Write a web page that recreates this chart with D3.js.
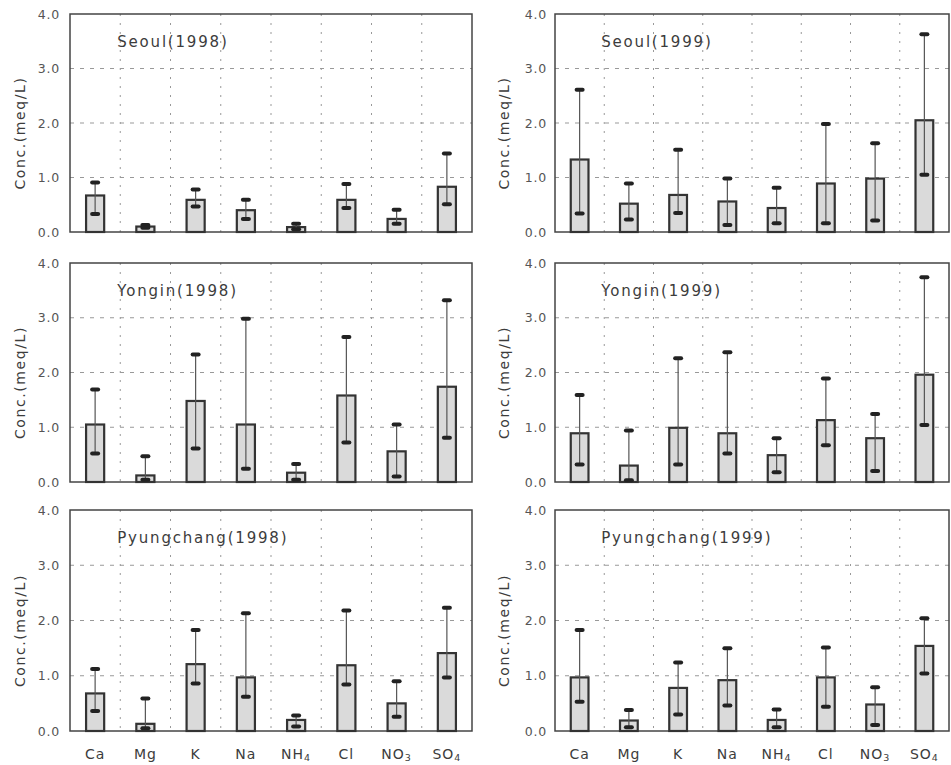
<!DOCTYPE html>
<html>
<head>
<meta charset="utf-8">
<script src="https://cdn.jsdelivr.net/npm/d3@7"></script>
<style>
  body { margin: 0; background: #fff; }
  svg { font-family: "DejaVu Sans", Arial, sans-serif; }
</style>
</head>
<body>
<script>
// ions on the x axis (sub = subscript digit)
var ions = ["Ca", "Mg", "K", "Na", "NH4", "Cl", "NO3", "SO4"];
var ionBase = ["Ca", "Mg", "K", "Na", "NH", "Cl", "NO", "SO"];
var ionSub = ["", "", "", "", "4", "", "3", "4"];
var yTicks = [0, 1, 2, 3, 4];

// mean (bar), upper and lower marks for each panel
var seoul98Mean = [0.67, 0.10, 0.59, 0.40, 0.09, 0.59, 0.24, 0.83];
var seoul98Hi   = [0.91, 0.13, 0.78, 0.59, 0.15, 0.88, 0.41, 1.44];
var seoul98Lo   = [0.33, 0.08, 0.47, 0.24, 0.05, 0.44, 0.15, 0.51];

var seoul99Mean = [1.33, 0.52, 0.68, 0.56, 0.44, 0.89, 0.98, 2.05];
var seoul99Hi   = [2.61, 0.89, 1.51, 0.98, 0.81, 1.98, 1.63, 3.63];
var seoul99Lo   = [0.34, 0.23, 0.35, 0.13, 0.16, 0.16, 0.21, 1.05];

var yongin98Mean = [1.05, 0.12, 1.48, 1.05, 0.17, 1.58, 0.56, 1.74];
var yongin98Hi   = [1.69, 0.47, 2.33, 2.98, 0.33, 2.65, 1.05, 3.32];
var yongin98Lo   = [0.52, 0.04, 0.61, 0.24, 0.04, 0.72, 0.10, 0.81];

var yongin99Mean = [0.89, 0.30, 0.99, 0.89, 0.49, 1.13, 0.80, 1.96];
var yongin99Hi   = [1.59, 0.94, 2.26, 2.37, 0.80, 1.89, 1.24, 3.74];
var yongin99Lo   = [0.32, 0.03, 0.32, 0.52, 0.18, 0.67, 0.20, 1.04];

var pyung98Mean = [0.68, 0.13, 1.21, 0.97, 0.20, 1.19, 0.50, 1.41];
var pyung98Hi   = [1.12, 0.59, 1.83, 2.13, 0.28, 2.18, 0.90, 2.23];
var pyung98Lo   = [0.36, 0.05, 0.86, 0.62, 0.08, 0.84, 0.26, 0.97];

var pyung99Mean = [0.97, 0.19, 0.78, 0.92, 0.20, 0.97, 0.48, 1.54];
var pyung99Hi   = [1.83, 0.38, 1.24, 1.50, 0.39, 1.51, 0.79, 2.04];
var pyung99Lo   = [0.53, 0.07, 0.30, 0.46, 0.07, 0.44, 0.11, 1.04];

var titles = ["Seoul(1998)", "Seoul(1999)", "Yongin(1998)", "Yongin(1999)",
              "Pyungchang(1998)", "Pyungchang(1999)"];

var width = 951, height = 765;

var svg = d3.select("body").append("svg")
    .attr("width", width)
    .attr("height", height);

// panel frames: columns and rows
var cols = [[70, 472], [555, 949]];
var rows = [[14, 232], [263, 482], [510, 731]];

var panels = [
  {title: titles[0], mean: seoul98Mean, hi: seoul98Hi, lo: seoul98Lo, c: 0, r: 0},
  {title: titles[1], mean: seoul99Mean, hi: seoul99Hi, lo: seoul99Lo, c: 1, r: 0},
  {title: titles[2], mean: yongin98Mean, hi: yongin98Hi, lo: yongin98Lo, c: 0, r: 1},
  {title: titles[3], mean: yongin99Mean, hi: yongin99Hi, lo: yongin99Lo, c: 1, r: 1},
  {title: titles[4], mean: pyung98Mean, hi: pyung98Hi, lo: pyung98Lo, c: 0, r: 2},
  {title: titles[5], mean: pyung99Mean, hi: pyung99Hi, lo: pyung99Lo, c: 1, r: 2}
];

var textCol = "#3c3c3c";

panels.forEach(function(p) {
  var x0 = cols[p.c][0], x1 = cols[p.c][1];
  var y0 = rows[p.r][0], y1 = rows[p.r][1];

  var x = d3.scaleBand().domain(ions).range([x0, x1]).padding(0);
  var y = d3.scaleLinear().domain([0, 4]).range([y1, y0]);

  var g = svg.append("g");

  // horizontal grid
  g.selectAll(".hgrid").data([1, 2, 3]).enter().append("line")
    .attr("x1", x0).attr("x2", x1)
    .attr("y1", d => y(d)).attr("y2", d => y(d))
    .attr("stroke", "#999")
    .attr("stroke-dasharray", "4,6");

  // vertical grid between ions
  g.selectAll(".vgrid").data(ions.slice(1)).enter().append("line")
    .attr("x1", d => x(d)).attr("x2", d => x(d))
    .attr("y1", y0).attr("y2", y1)
    .attr("stroke", "#999")
    .attr("stroke-dasharray", "2,7");

  // y axis
  var leftAxis = d3.axisLeft(y).tickValues(yTicks).tickFormat(d3.format(".1f"))
    .tickSize(0).tickPadding(p.c === 0 ? 10 : 8);
  var ax = g.append("g").attr("transform", `translate(${x0},0)`).call(leftAxis);
  ax.select(".domain").remove();
  ax.selectAll("text")
    .attr("fill", "#555")
    .style("font-family", "'DejaVu Sans', sans-serif")
    .style("font-size", "12.5px")
    .style("letter-spacing", "0.8px");

  // frame
  g.append("rect")
    .attr("x", x0).attr("y", y0)
    .attr("width", x1 - x0).attr("height", y1 - y0)
    .attr("fill", "none")
    .attr("stroke", "#444")
    .attr("stroke-width", 1.5);

  var bw = x.bandwidth() * 0.36;
  var cx = d => x(d) + x.bandwidth() / 2;

  // bars
  g.selectAll(".bar").data(ions).enter().append("rect")
    .attr("x", d => cx(d) - bw / 2)
    .attr("y", (d, i) => y(p.mean[i]))
    .attr("width", bw)
    .attr("height", (d, i) => y1 - y(p.mean[i]))
    .attr("fill", "#dadada")
    .attr("stroke", "#333")
    .attr("stroke-width", 2.2);

  // range lines
  g.selectAll(".err").data(ions).enter().append("line")
    .attr("x1", cx).attr("x2", cx)
    .attr("y1", (d, i) => y(p.lo[i]))
    .attr("y2", (d, i) => y(p.hi[i]))
    .attr("stroke", "#555")
    .attr("stroke-width", 1.2);

  // upper and lower marks
  [p.hi, p.lo].forEach(function(vals) {
    g.selectAll(null).data(ions).enter().append("rect")
      .attr("x", d => cx(d) - 5)
      .attr("y", (d, i) => y(vals[i]) - 2)
      .attr("width", 10).attr("height", 4)
      .attr("rx", 2)
      .attr("fill", "#222");
  });

  // panel title
  g.append("text")
    .attr("x", x0 + x.bandwidth() - 3)
    .attr("y", y0 + 33)
    .attr("fill", textCol)
    .style("font-size", "15px")
    .style("letter-spacing", "1.8px")
    .text(p.title);

  // y label
  var lx = p.c === 0 ? 20 : 504;
  g.append("text")
    .attr("transform", `translate(${lx},${(y0 + y1) / 2 + 10}) rotate(-90)`)
    .attr("text-anchor", "middle")
    .attr("dy", "0.35em")
    .attr("fill", textCol)
    .style("font-size", "14px")
    .style("letter-spacing", "1.6px")
    .text("Conc.(meq/L)");

  // x labels on bottom row only
  if (p.r === 2) {
    var lab = g.selectAll(".xl").data(ions).enter().append("text")
      .attr("x", cx)
      .attr("y", y1 + 28)
      .attr("text-anchor", "middle")
      .attr("fill", textCol)
      .style("font-size", "14px")
      .style("letter-spacing", "1px");
    lab.append("tspan").text((d, i) => ionBase[i]);
    lab.append("tspan")
      .attr("dy", "2")
      .style("font-size", "9.5px")
      .text((d, i) => ionSub[i]);
  }
});
</script>
</body>
</html>
